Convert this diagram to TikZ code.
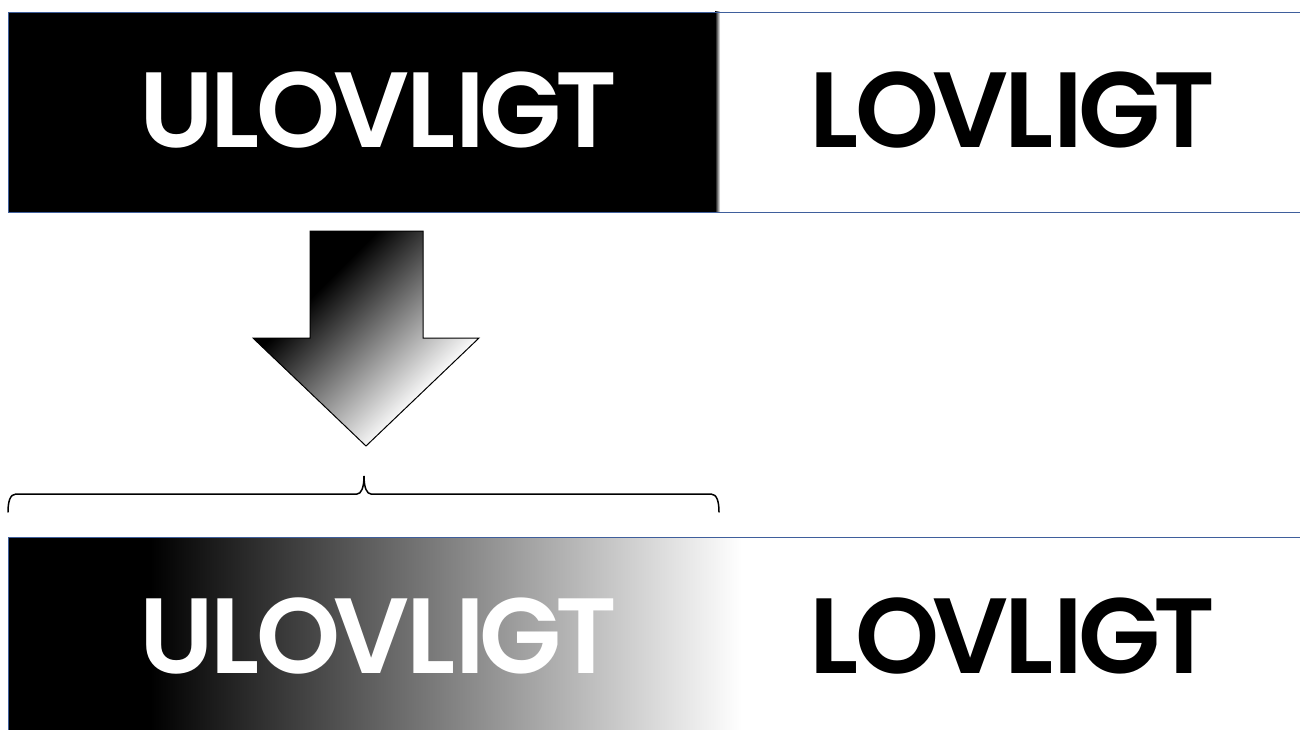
\documentclass[tikz,border=0pt]{standalone}
\usepackage{fontspec}
\newfontfamily\logofont{Poppins SemiBold}
\definecolor{edge}{HTML}{3F5F9C}
\pgfdeclareverticalshading{diagfade}{100bp}{color(0bp)=(white); color(39.5bp)=(white); color(62.5bp)=(black); color(100bp)=(black)}
\newcommand{\ulov}{U\kern-3pt L\kern-3pt O\kern-7pt V\kern-4pt L\kern0pt I\kern-5pt G\kern-7pt T}
\newcommand{\lov}{L\kern-3pt O\kern-7pt V\kern-4pt L\kern0pt I\kern-5pt G\kern-7pt T}
\tikzset{
  x=1pt,y=-1pt,
  logo/.style={font=\logofont\fontsize{107}{107}\selectfont,inner sep=0pt,anchor=base west},
  band/.style={draw=edge,line width=0.9pt},
  bracepath/.style={draw=black,line width=1.5pt,line cap=round}
}
\begin{document}
\begin{tikzpicture}
\useasboundingbox (0,0) rectangle (1300,730);
\fill[white] (0,0) rectangle (1300,730);
% top band
\fill[black] (8,12) rectangle (715,212);
\shade[left color=black,right color=white] (715,12) rectangle (720,212);
\draw[band] (1300,12) -- (8,12) -- (8,212) -- (1300,212);
\node[logo,text=white] (w1) at (139,148) {\ulov};
\node[logo,text=black] (w2) at (809,148) {\lov};
% arrow
\begin{scope}
\clip (310,231) -- (423,231) -- (423,338) -- (479,338) -- (366,446) -- (253,338) -- (310,338) -- cycle;
\shade[shading=diagfade,shading angle=45] (202,194) rectangle (530,522);
\end{scope}
\draw[black,line width=1pt,line join=miter] (310,231) -- (423,231) -- (423,338) -- (479,338) -- (366,446) -- (253,338) -- (310,338) -- cycle;
% brace
\draw[bracepath] (8,512) .. controls (8,502) and (10,494) .. (16,494) -- (357,494) .. controls (361,494) and (364,488) .. (364,476) .. controls (364,488) and (367,494) .. (371,494) -- (711,494) .. controls (717,494) and (719,502) .. (719,512);
% bottom band
\fill[black] (8,537) rectangle (150,730);
\shade[left color=black,right color=white] (150,537) rectangle (742,730);
\draw[band] (1300,537) -- (8,537) -- (8,730);
\node[logo,text=white] (w3) at (139,673) {\ulov};
\node[logo,text=black] (w4) at (809,673) {\lov};
\end{tikzpicture}
\end{document}
